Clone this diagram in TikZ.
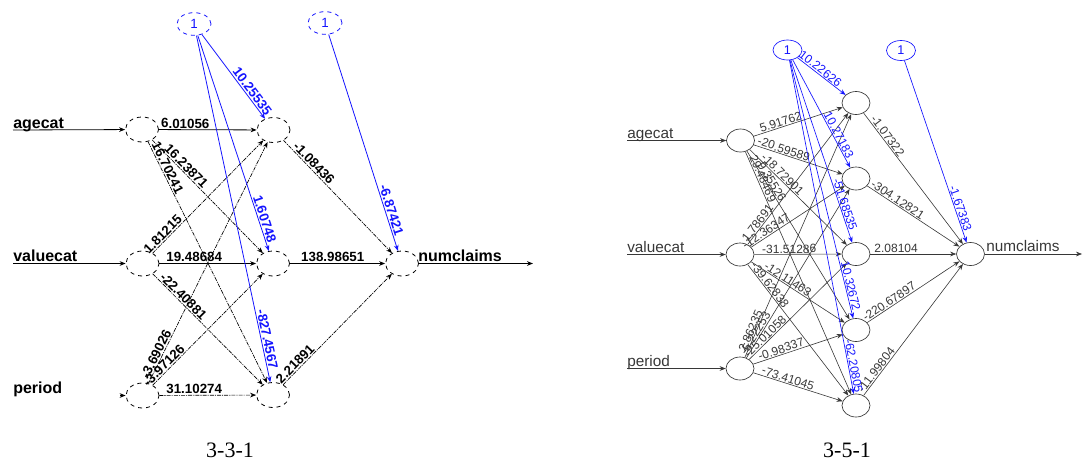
\documentclass[tikz,border=0pt]{standalone}
\usepackage{fontspec}
\setmainfont{Liberation Serif}
\setsansfont{Liberation Sans}
\usetikzlibrary{shapes.geometric,arrows.meta}
\definecolor{netblue}{RGB}{20,20,255}
\definecolor{netgray}{RGB}{55,55,55}
\tikzset{
  arrowed/.style={-{Stealth[length=4.5pt,width=3.5pt]}},
  neuron/.style={ellipse, draw, inner sep=0pt},
  % 3-3-1 network (bold, dashed look)
  Aneuron/.style={neuron, dashed, draw=black, line width=0.6pt, minimum width=24.75pt, minimum height=18.75pt},
  Abias/.style={neuron, dashed, draw=netblue, text=netblue, line width=0.6pt, minimum width=25.5pt, minimum height=17pt, font=\sffamily\fontsize{10}{10}\selectfont},
  Aedge/.style={arrowed, draw=black, line width=0.5pt, dash pattern=on 3pt off 0.8pt on 0.8pt off 0.8pt},
  Aflat/.style={arrowed, draw=black, line width=0.6pt},
  Abedge/.style={arrowed, draw=netblue, line width=0.6pt},
  Aname/.style={inner sep=0pt, font=\sffamily\bfseries\fontsize{12}{12}\selectfont},
  Aw/.style={sloped, above, inner sep=0.8pt, font=\sffamily\bfseries\fontsize{10}{10}\selectfont, text=black},
  Abw/.style={Aw, text=netblue},
  % 3-5-1 network (plain)
  Bneuron/.style={neuron, draw=netgray, line width=0.5pt, minimum width=21pt, minimum height=17.25pt},
  Bbias/.style={neuron, draw=netblue, text=netblue, line width=0.5pt, minimum width=21.75pt, minimum height=15pt, font=\sffamily\fontsize{9.5}{9.5}\selectfont},
  Bedge/.style={arrowed, draw=netgray, line width=0.45pt},
  Bbedge/.style={arrowed, draw=netblue, line width=0.5pt},
  Bname/.style={inner sep=0pt, text=netgray, font=\sffamily\fontsize{11.5}{11.5}\selectfont},
  Bw/.style={sloped, above, inner sep=0.6pt, font=\sffamily\fontsize{9}{9}\selectfont, text=netgray},
  Bbw/.style={Bw, text=netblue},
  caption/.style={inner sep=0pt, font=\rmfamily\fontsize{16.5}{16.5}\selectfont}
}
\begin{document}
\begin{tikzpicture}[x=0.75pt, y=-0.75pt]
\useasboundingbox (0,0) rectangle (1083,475);

% ---------------- 3-3-1 network ----------------
\node[Abias] (a1b) at (194,24) {1};
\node[Abias] (a2b) at (325,23) {1};
\node[Aneuron] (ai1) at (142,129.5) {};
\node[Aneuron] (ai2) at (142.5,263.5) {};
\node[Aneuron] (ai3) at (142.5,395.5) {};
\node[Aneuron] (ah1) at (273.5,130) {};
\node[Aneuron] (ah2) at (273,263.5) {};
\node[Aneuron] (ah3) at (273,395) {};
\node[Aneuron] (ao) at (402,263.5) {};

\node[Aname, anchor=base west] (alab1) at (13,128) {agecat};
\node[Aname, anchor=base west] (alab2) at (13,261.5) {valuecat};
\node[Aname, anchor=base west] (alab3) at (13,393) {period};
\node[Aname, anchor=base west] (alabo) at (418,261) {numclaims};

\coordinate (ain1) at (13,130);
\coordinate (ain2) at (13,263.5);
\coordinate (ain3) at (120,395.5);
\coordinate (aout) at (533,263.5);
\draw[Aflat] (ain1) -- (ai1);
\draw[Aflat] (ain2) -- (ai2);
\draw[Aflat] (ain3) -- (ai3);
\draw[Aflat] (ao) -- (aout);

\draw[Aflat] (ai1) -- node[Aw,pos=0.27]{6.01056} (ah1);
\draw[Aedge] (ai1) -- node[Aw,pos=0.27]{16.23871} (ah2);
\draw[Aedge] (ai1) -- node[Aw,pos=0.12]{16.70241} (ah3);
\draw[Aedge] (ai2) -- node[Aw,pos=0.13]{1.81215} (ah1);
\draw[Aflat] (ai2) -- node[Aw,pos=0.36]{19.48684} (ah2);
\draw[Aedge] (ai2) -- node[Aw,pos=0.24]{-22.40881} (ah3);
\draw[Aedge] (ai3) -- node[Aw,pos=0.11]{-3.69026} (ah1);
\draw[Aedge] (ai3) -- node[Aw,pos=0.14]{-3.97126} (ah2);
\draw[Aedge] (ai3) -- node[Aw,pos=0.36]{31.10274} (ah3);
\draw[Aedge] (ah1) -- node[Aw,pos=0.24]{-1.08436} (ao);
\draw[Aflat] (ah2) -- node[Aw,pos=0.45]{138.98651} (ao);
\draw[Aedge] (ah3) -- node[Aw,pos=0.15]{2.21891} (ao);
\draw[Abedge] (a1b) -- node[Abw,pos=0.72]{10.25535} (ah1);
\draw[Abedge] (a1b) -- node[Abw,pos=0.86]{1.60748} (ah2);
\draw[Abedge] (a1b) -- node[Abw,pos=0.88]{-827.4567} (ah3);
\draw[Abedge] (a2b) -- node[Abw,pos=0.82]{-6.87421} (ao);

% ---------------- 3-5-1 network ----------------
\node[Bbias] (b1b) at (787.5,50) {1};
\node[Bbias] (b2b) at (901,50.5) {1};
\node[Bneuron] (bi1) at (740.5,140.5) {};
\node[Bneuron] (bi2) at (740,254.5) {};
\node[Bneuron] (bi3) at (740,368.5) {};
\node[Bneuron] (bh1) at (856,103) {};
\node[Bneuron] (bh2) at (856,178.5) {};
\node[Bneuron] (bh3) at (856,254) {};
\node[Bneuron] (bh4) at (856,330) {};
\node[Bneuron] (bh5) at (856,405.5) {};
\node[Bneuron] (bo) at (970.5,254) {};

\node[Bname, anchor=base west] (blab1) at (627,138) {agecat};
\node[Bname, anchor=base west] (blab2) at (627,252) {valuecat};
\node[Bname, anchor=base west] (blab3) at (627,366) {period};
\node[Bname, anchor=base west] (blabo) at (986,251.5) {numclaims};

\coordinate (bin1) at (627,140.5);
\coordinate (bin2) at (627,254.5);
\coordinate (bin3) at (627,368.5);
\coordinate (bout) at (1082,254);
\draw[Bedge] (bin1) -- (bi1);
\draw[Bedge] (bin2) -- (bi2);
\draw[Bedge] (bin3) -- (bi3);
\draw[Bedge] (bo) -- (bout);

\draw[Bedge] (bi1) -- node[Bw,pos=0.32]{5.91762} (bh1);
\draw[Bedge] (bi1) -- node[Bw,pos=0.32]{-20.59589} (bh2);
\draw[Bedge] (bi1) -- node[Bw,pos=0.30]{-18.72901} (bh3);
\draw[Bedge] (bi1) -- node[Bw,pos=0.20]{9.35526} (bh4);
\draw[Bedge] (bi1) -- node[Bw,pos=0.12]{29.48469} (bh5);
\draw[Bedge] (bi2) -- node[Bw,pos=0.14]{1.78691} (bh1);
\draw[Bedge] (bi2) -- node[Bw,pos=0.19]{-12.36347} (bh2);
\draw[Bedge] (bi2) -- node[Bw,pos=0.40]{-31.51286} (bh3);
\draw[Bedge] (bi2) -- node[Bw,pos=0.36]{-12.11463} (bh4);
\draw[Bedge] (bi2) -- node[Bw,pos=0.18]{-39.62838} (bh5);
\draw[Bedge] (bi3) -- node[Bw,pos=0.10]{2.86235} (bh1);
\draw[Bedge] (bi3) -- node[Bw,pos=0.13]{-5.22253} (bh2);
\draw[Bedge] (bi3) -- node[Bw,pos=0.20]{-25.01058} (bh3);
\draw[Bedge] (bi3) -- node[Bw,pos=0.33]{-0.98337} (bh4);
\draw[Bedge] (bi3) -- node[Bw,pos=0.37]{-73.41045} (bh5);
\draw[Bedge] (bh1) -- node[Bw,pos=0.20]{-1.07322} (bo);
\draw[Bedge] (bh2) -- node[Bw,pos=0.30]{-304.12821} (bo);
\draw[Bedge] (bh3) -- node[Bw,pos=0.30]{2.08104} (bo);
\draw[Bedge] (bh4) -- node[Bw,pos=0.27]{-220.67897} (bo);
\draw[Bedge] (bh5) -- node[Bw,pos=0.17]{-11.99804} (bo);
\draw[Bbedge] (b1b) -- node[Bbw,pos=0.41]{10.22626} (bh1);
\draw[Bbedge] (b1b) -- node[Bbw,pos=0.72]{10.27183} (bh2);
\draw[Bbedge] (b1b) -- node[Bbw,pos=0.80]{-51.68535} (bh3);
\draw[Bbedge] (b1b) -- node[Bbw,pos=0.88]{10.32672} (bh4);
\draw[Bbedge] (b1b) -- node[Bbw,pos=0.92]{-62.20805} (bh5);
\draw[Bbedge] (b2b) -- node[Bbw,pos=0.82]{-1.67383} (bo);

% ---------------- captions ----------------
\node[caption] (capA) at (230,450) {3-3-1};
\node[caption] (capB) at (847,450) {3-5-1};
\end{tikzpicture}
\end{document}
